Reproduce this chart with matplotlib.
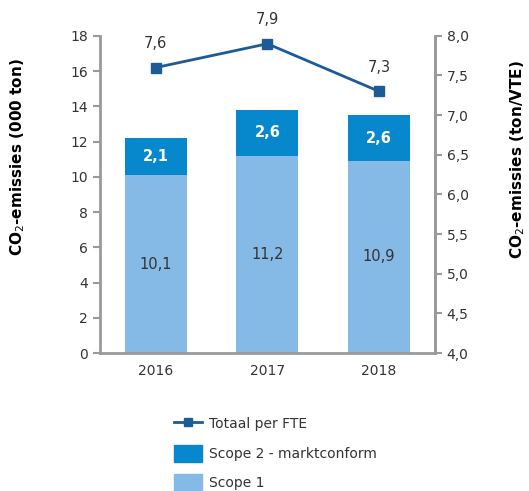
import matplotlib.pyplot as plt
import numpy as np
from matplotlib.lines import Line2D
from matplotlib.patches import Patch

jaren = ['2016', '2017', '2018']
scope1 = np.array([10.1, 11.2, 10.9])
scope2 = np.array([2.1, 2.6, 2.6])
per_fte = np.array([7.6, 7.9, 7.3])

kleur_scope1 = '#85b9e6'
kleur_scope2 = '#0788cc'
kleur_lijn = '#1d5b97'
grijs = '#9a9a9a'
tekst = '#333333'

plt.rcParams['font.family'] = ['DejaVu Sans']

fig = plt.figure(figsize=(5.29, 4.91), dpi=100)
ax = fig.add_axes([0.189, 0.281, 0.633, 0.646])
x = np.arange(len(jaren))
breedte = 0.555

ax.bar(x, scope1, breedte, color=kleur_scope1, zorder=2)
ax.bar(x, scope2, breedte, bottom=scope1, color=kleur_scope2, zorder=2)

for i in range(len(jaren)):
    ax.text(x[i], scope1[i] / 2, f'{scope1[i]:.1f}'.replace('.', ','),
            ha='center', va='center', fontsize=10.5, color=tekst)
    ax.text(x[i], scope1[i] + scope2[i] / 2, f'{scope2[i]:.1f}'.replace('.', ','),
            ha='center', va='center', fontsize=10.5, color='white', fontweight='bold')

ax.set_xlim(-0.5, 2.5)
ax.set_ylim(0, 18)
ax.set_yticks(np.arange(0, 19, 2))
ax.set_xticks(x)
ax.set_xticklabels(jaren)

ax2 = ax.twinx()
ax2.plot(x, per_fte, color=kleur_lijn, linewidth=2, marker='s', markersize=7, zorder=3)
for i in range(len(jaren)):
    ax2.annotate(f'{per_fte[i]:.1f}'.replace('.', ','), (x[i], per_fte[i]),
                 xytext=(0, 12), textcoords='offset points',
                 ha='center', va='bottom', fontsize=10.5, color=tekst)
ax2.set_ylim(4.0, 8.0)
ax2.set_yticks(np.arange(4.0, 8.01, 0.5))
ax2.set_yticklabels([f'{v:.1f}'.replace('.', ',') for v in np.arange(4.0, 8.01, 0.5)])

for a in (ax, ax2):
    a.spines['top'].set_visible(False)
    for s in ('left', 'right', 'bottom'):
        a.spines[s].set_color(grijs)
        a.spines[s].set_linewidth(2)
    a.tick_params(colors=grijs, labelcolor=tekst, labelsize=10, width=1.5, length=5)
ax.tick_params(axis='x', length=0, pad=8)
ax2.spines['left'].set_visible(False)
ax2.spines['bottom'].set_visible(False)

# as-titels staan hoog naast de assen
fig.text(18 / 529, 1 - 157 / 491, r'CO$_2$-emissies (000 ton)', rotation=90,
         ha='center', va='center', fontsize=11, fontweight='bold')
fig.text(518 / 529, 1 - 160 / 491, r'CO$_2$-emissies (ton/VTE)', rotation=90,
         ha='center', va='center', fontsize=11, fontweight='bold')

handles = [
    Line2D([0], [0], color=kleur_lijn, linewidth=2, marker='s', markersize=6),
    Patch(color=kleur_scope2),
    Patch(color=kleur_scope1),
]
labels = ['Totaal per FTE', 'Scope 2 - marktconform', 'Scope 1']
fig.legend(handles, labels, loc='upper left', bbox_to_anchor=(0.305, 0.18),
           frameon=False, fontsize=10, handlelength=2.0, handleheight=1.5,
           labelspacing=0.9, handletextpad=0.5, labelcolor=tekst)

fig.savefig('out.png', dpi=100)
